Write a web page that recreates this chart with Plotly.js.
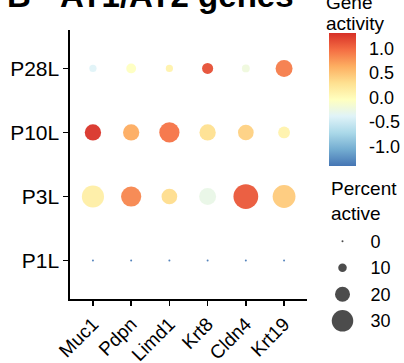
<!DOCTYPE html>
<html>
<head>
<meta charset="utf-8">
<script src="https://cdn.plot.ly/plotly-3.0.1.min.js"></script>
<style>
html,body{margin:0;padding:0;background:#fff;}
#chart{width:404px;height:363px;}
</style>
</head>
<body>
<div id="chart"></div>
<script>
// ---- data ----
var genes = ['Muc1', 'Pdpn', 'Limd1', 'Krt8', 'Cldn4', 'Krt19'];
var groups = ['P1L', 'P3L', 'P10L', 'P28L'];

// average scaled gene activity per group (columns follow genes)
var activityP1L  = [-1.35, -1.35, -1.35, -1.35, -1.35, -1.35];
var activityP3L  = [0.15, 0.85, 0.32, -0.28, 1.10, 0.45];
var activityP10L = [1.30, 0.65, 0.95, 0.30, 0.40, 0.10];
var activityP28L = [-0.38, -0.05, 0.10, 1.15, -0.22, 0.90];

// percent of cells with activity per group
var percentP1L  = [0, 0, 0, 0, 0, 0];
var percentP3L  = [31, 28, 21, 23, 35, 32];
var percentP10L = [22, 22, 28, 22, 21, 15];
var percentP28L = [8, 12, 8, 14, 9, 23];

var colorTicks = [-1.0, -0.5, 0.0, 0.5, 1.0];
var colorTickText = ['-1.0', '-0.5', '0.0', '0.5', '1.0'];
var sizeLegendValues = [0, 10, 20, 30];
var activityMin = -1.40, activityMax = 1.32;

// ---- build traces ----
var activityByGroup = {P1L: activityP1L, P3L: activityP3L, P10L: activityP10L, P28L: activityP28L};
var percentByGroup = {P1L: percentP1L, P3L: percentP3L, P10L: percentP10L, P28L: percentP28L};

function pctToDiameter(p) { return 2 + 0.65 * p; }

var xs = [], ys = [], cs = [], ss = [];
groups.forEach(function (g) {
  genes.forEach(function (gene, i) {
    xs.push(gene);
    ys.push(g);
    cs.push(activityByGroup[g][i]);
    ss.push(pctToDiameter(percentByGroup[g][i]));
  });
});

var colorscale = [
  [0.000, '#4575b4'],
  [0.125, '#74add1'],
  [0.250, '#abd9e9'],
  [0.375, '#e0f3f8'],
  [0.500, '#ffffbf'],
  [0.625, '#fee090'],
  [0.750, '#fdae61'],
  [0.875, '#f46d43'],
  [1.000, '#d73027']
];

var font = 'Liberation Sans, Arial, Helvetica, sans-serif';

var dots = {
  type: 'scatter', mode: 'markers',
  x: xs, y: ys, xaxis: 'x', yaxis: 'y',
  hoverinfo: 'skip',
  cliponaxis: false,
  marker: {
    size: ss, sizemode: 'diameter',
    color: cs, colorscale: colorscale, cmin: activityMin, cmax: activityMax,
    line: {width: 0},
    opacity: 0.95,
    colorbar: {
      x: 0.7994, xanchor: 'left', xpad: 0,
      y: 0.9904, yanchor: 'top', ypad: 0,
      lenmode: 'pixels', len: 133,
      thicknessmode: 'pixels', thickness: 27,
      outlinewidth: 0,
      tickmode: 'array', tickvals: colorTicks, ticktext: colorTickText,
      ticks: 'outside', ticklen: 10, tickcolor: 'rgba(0,0,0,0)',
      tickfont: {family: font, size: 18, color: '#000'}
    }
  },
  showlegend: false
};

var sizeLegend = {
  type: 'scatter', mode: 'markers',
  x: sizeLegendValues.map(function () { return 0; }),
  y: sizeLegendValues.map(String),
  xaxis: 'x2', yaxis: 'y2',
  hoverinfo: 'skip', cliponaxis: false,
  marker: {size: sizeLegendValues.map(pctToDiameter), sizemode: 'diameter', color: '#000', line: {width: 0}},
  showlegend: false
};

var layout = {
  width: 404, height: 363,
  margin: {l: 70, r: 10, t: 30, b: 20, autoexpand: false},
  paper_bgcolor: '#fff', plot_bgcolor: '#fff',
  font: {family: font, color: '#000'},
  showlegend: false,
  xaxis: {
    type: 'category', categoryorder: 'array', categoryarray: genes,
    range: [-0.6, 5.6], domain: [0, 0.7315], anchor: 'y',
    showgrid: false, zeroline: false,
    showline: true, linecolor: '#000', linewidth: 1.6,
    ticks: 'outside', ticklen: 5, tickwidth: 1.5, tickcolor: '#000',
    tickangle: -45,
    tickfont: {family: font, size: 19, color: '#000'}
  },
  yaxis: {
    type: 'category', categoryorder: 'array', categoryarray: groups,
    range: [-0.6, 3.6], domain: [0.1406, 1], anchor: 'x',
    showgrid: false, zeroline: false,
    showline: true, linecolor: '#000', linewidth: 1.6,
    ticks: 'outside', ticklen: 5, tickwidth: 1.5, tickcolor: '#000',
    tickfont: {family: font, size: 21, color: '#000'}
  },
  xaxis2: {
    domain: [0.8025, 0.8796], range: [-1, 1], anchor: 'y2',
    visible: false
  },
  yaxis2: {
    type: 'category', categoryorder: 'array', categoryarray: sizeLegendValues.map(String),
    range: [3.5, -0.5], domain: [0.0285, 0.3674], anchor: 'x2', side: 'right',
    showgrid: false, zeroline: false, showline: false,
    ticks: 'outside', ticklen: 11, tickcolor: 'rgba(0,0,0,0)',
    tickfont: {family: font, size: 18, color: '#000'}
  },
  annotations: [
    {text: '<b>B</b>', xref: 'paper', yref: 'paper', x: -0.2, y: 1.11,
     xanchor: 'left', yanchor: 'middle', showarrow: false,
     font: {family: font, size: 33, color: '#000'}},
    {text: '<b>AT1/AT2 genes</b>', xref: 'paper', yref: 'paper', x: -0.037, y: 1.11,
     xanchor: 'left', yanchor: 'middle', showarrow: false,
     font: {family: font, size: 33, color: '#000'}},
    {text: 'Gene', xref: 'paper', yref: 'paper', x: 0.784, y: 1.0885,
     xanchor: 'left', yanchor: 'middle', align: 'left', showarrow: false,
     font: {family: font, size: 19, color: '#000'}},
    {text: 'activity', xref: 'paper', yref: 'paper', x: 0.784, y: 1.0195,
     xanchor: 'left', yanchor: 'middle', align: 'left', showarrow: false,
     font: {family: font, size: 19, color: '#000'}},
    {text: 'Percent<br>active', xref: 'paper', yref: 'paper', x: 0.7995, y: 0.5335,
     xanchor: 'left', yanchor: 'top', align: 'left', showarrow: false,
     font: {family: font, size: 19, color: '#000'}}
  ]
};

Plotly.newPlot('chart', [dots, sizeLegend], layout, {staticPlot: true, displayModeBar: false});
</script>
</body>
</html>
